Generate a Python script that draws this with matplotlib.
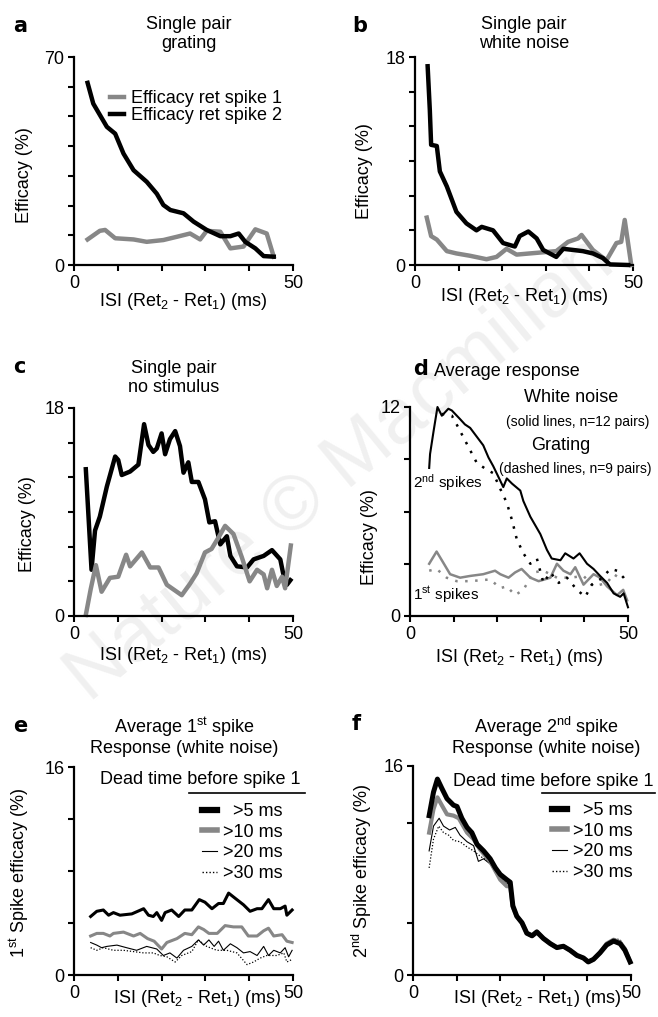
import matplotlib
matplotlib.use('Agg')
import matplotlib.pyplot as plt

plt.rcParams['font.family'] = ['Liberation Sans', 'DejaVu Sans']
plt.rcParams['mathtext.default'] = 'regular'
plt.rcParams['font.size'] = 13

W, H = 658, 1017
GRAY = '#878787'

# ---- panel a: single pair, grating
a_x1 = [3.1, 5.9, 7.1, 9.4, 13.6, 16.6, 20.4, 23.5, 26.5, 28.8, 30.3, 33.4, 35.7, 38.7, 41.4, 44, 45.6]
a_y1 = [8.6, 11.5, 11.8, 9, 8.6, 7.8, 8.4, 9.5, 10.6, 8.6, 11.5, 11.2, 5.6, 6.2, 12, 10.6, 2.8]
a_x2 = [3.1, 4.4, 7.5, 9.4, 11.3, 13.6, 16.6, 18.9, 20.4, 22, 25, 27.3, 30.3, 33.4, 35.7, 37.6, 39.1, 41.4, 43.3, 45.6]
a_y2 = [61.3, 54.3, 46.5, 44.2, 37.5, 31.9, 28, 24, 20.2, 18.5, 17.4, 14.6, 11.8, 9.7, 9.7, 10.6, 7.8, 5.6, 3, 2.8]

# ---- panel b: single pair, white noise
b_x1 = [2.7, 3.7, 5, 7.3, 9.5, 12.6, 16.4, 18.7, 21, 23.3, 26.3, 29.4, 32.4, 35.1, 37.4, 38.2, 40.8, 43.9, 46.2, 47.3, 48.1, 49.6]
b_y1 = [4.1, 2.5, 2.2, 1.2, 1.0, 0.8, 0.5, 0.7, 1.4, 0.9, 1.0, 1.1, 1.2, 2.0, 2.3, 2.6, 1.3, 0.4, 1.9, 2.0, 3.9, 0]
b_x2 = [2.9, 3.4, 3.7, 5, 5.7, 7.3, 9.5, 11.8, 14.1, 15.3, 17.9, 20.2, 22.9, 24, 26, 27.9, 29.4, 30.9, 32.4, 34,
        36.3, 38.5, 40.8, 43.1, 44.7, 48.9]
b_y2 = [17.2, 13.4, 10.4, 10.3, 8.1, 6.8, 4.6, 3.6, 3.0, 3.3, 3.0, 1.9, 1.6, 2.5, 2.9, 2.3, 1.3, 1.0, 0.7, 1.4,
        1.3, 1.2, 1.0, 0.6, 0.05, 0]

# ---- panel c: single pair, no stimulus
c_x1 = [2.7, 3.8, 5, 6.3, 8.2, 10.1, 11.9, 12.8, 15.5, 17.4, 19.3, 21.2, 24.6, 26.5, 28, 29.9, 31.4, 33, 34.5,
        36.4, 38.3, 40.1, 41.8, 43.3, 44.1, 45.2, 46.3, 47.5, 48.2, 49.5]
c_y1 = [0.1, 2.3, 4.4, 2.1, 3.3, 3.4, 5.3, 4.3, 5.5, 4.2, 4.2, 2.7, 1.8, 2.8, 3.7, 5.5, 5.8, 6.8, 7.8,
        7.1, 5.1, 3.0, 4.0, 3.6, 2.4, 4.0, 2.6, 3.4, 2.4, 6.1]
c_x2 = [2.7, 4, 4.8, 5.9, 7.5, 9.4, 10.1, 10.9, 12.8, 14.7, 16, 17, 18.1, 18.9, 20, 20.8, 21.9, 23.1, 24.2, 25,
        26.1, 26.9, 28.4, 29.9, 30.9, 32.2, 33.4, 34.9, 35.7, 37.2, 39.5, 41, 43.3, 45.2, 47.1, 47.9, 48.6, 49.4]
c_y2 = [12.7, 4, 7.4, 8.6, 11.2, 13.8, 13.5, 12.2, 12.5, 13.1, 16.6, 14.8, 14.2, 14.5, 15.8, 14, 15.3, 16, 14.7, 12.4,
        13.3, 11.6, 11.6, 10.1, 8.1, 8.2, 6.2, 6.9, 5.2, 4.3, 4.2, 4.9, 5.2, 5.7, 4.9, 3.4, 2.7, 3.1]

# ---- panel d: average response
d_wn2_x = [4.4, 4.6, 5.4, 6.3, 7.3, 8.8, 9.6, 11.5, 12.6, 13.8, 15.3, 16.8, 18, 19.1, 21.4, 22.2, 23.4, 25.3, 26,
           27.6, 29.9, 31.4, 32.5, 34.5, 35.6, 37.5, 38.9, 40.6, 42.1, 43.6, 45.2, 46.7, 48.2, 49, 50]
d_wn2_y = [8.5, 9.3, 10.6, 12, 11.5, 11.9, 11.8, 11.3, 11, 10.8, 10.3, 9.8, 9.1, 8.6, 7.4, 7.9, 7.6, 7.2, 6.6,
           5.7, 4.7, 3.8, 3.3, 3.2, 3.6, 3.3, 3.6, 3.0, 2.7, 2.3, 1.9, 1.3, 1.1, 1.3, 0.5]
d_gr2_x = [7.3, 9.6, 10.7, 13, 15.3, 17.6, 19.1, 20.7, 22.2, 23.4, 24.5, 26, 27.6, 29.1, 30.6, 32.2, 34.1, 36,
           38.3, 40.2, 41.7, 43.6, 46, 47.5, 49, 49.8]
d_gr2_y = [11.6, 11.5, 11, 9.9, 8.8, 8.4, 8.2, 7.3, 6.5, 5.5, 4.4, 3.6, 3.0, 3.3, 1.9, 2.5, 1.9, 2.2,
           1.5, 1.1, 1.8, 2.1, 2.7, 2.6, 2.2, 1.9]
d_wn1_x = [4.4, 6.1, 7.3, 9.2, 11.5, 13.8, 16.8, 19.5, 20.7, 22.6, 24.1, 25.6, 27.6, 29.5, 32.2, 33.7, 35.2,
           36.8, 37.9, 39.8, 42.1, 43.6, 45.2, 47.5, 48.9, 49.8]
d_wn1_y = [3.0, 3.7, 3.2, 2.4, 2.2, 2.3, 2.4, 2.6, 2.4, 2.2, 2.5, 2.7, 2.2, 2.0, 2.2, 3.0, 2.6,
           2.4, 2.8, 1.8, 2.4, 2.2, 1.7, 1.2, 1.5, 0.9]
d_gr1_x = [4.4, 6.1, 8.4, 10.7, 13.8, 18.4, 20.7, 22.2, 24.1, 26, 28.3, 30.6, 33.7, 36.8, 39.8, 42.1, 45.2, 46.7, 48.6]
d_gr1_y = [2.6, 2.7, 2.2, 2.0, 2.0, 2.1, 1.6, 1.7, 1.2, 1.5, 2.5, 2.6, 2.2, 2.2, 2.3, 1.7, 1.9, 2.4, 2.1]

# ---- panel e: average 1st spike, by dead time
e_x5 = [3.8, 5.2, 6.7, 7.9, 9, 10.5, 13.2, 15.9, 17, 18.1, 18.9, 20, 20.8, 22.3, 23.9, 25.3, 26.9, 28.6, 29.9,
        31.5, 33, 34.1, 35.3, 36.8, 38.7, 40.2, 41.8, 42.9, 44.4, 45.6, 47.1, 48.2, 48.6, 49.8]
e_y5 = [4.5, 4.9, 5.0, 4.6, 4.8, 4.6, 4.7, 5.1, 4.6, 4.5, 4.8, 4.2, 4.8, 5.0, 4.5, 5.0, 5.0, 5.8, 5.6,
        5.1, 5.5, 5.5, 6.3, 5.9, 5.4, 4.9, 5.1, 5.1, 5.8, 5.1, 5.1, 5.3, 4.6, 5.0]
e_x10 = [3.8, 5.2, 6.7, 8.2, 9, 11.3, 13.6, 15.1, 16.8, 18.3, 20, 21.2, 23.5, 25.3, 26.9, 28.4, 29.6, 30.8,
         32.7, 34.5, 36.4, 38.3, 39.8, 41.8, 43.3, 44.4, 45.6, 47.5, 48.6, 49.8]
e_y10 = [3.0, 3.2, 3.2, 3.0, 3.2, 3.3, 3.0, 3.2, 2.8, 2.6, 2.0, 2.5, 2.8, 3.2, 3.1, 3.7, 3.5, 3.2,
         3.2, 3.8, 3.7, 3.7, 3.0, 3.0, 3.4, 3.6, 3.0, 3.1, 2.6, 2.5]
e_x20 = [3.8, 5.2, 6.3, 7.5, 9.8, 12, 14.3, 16.6, 18.9, 20.4, 21.9, 23.5, 25, 26.9, 28.4, 29.6, 30.8, 32, 33,
         34.1, 35.7, 37.2, 38.7, 40.2, 41.8, 43.3, 44.4, 45.6, 47.1, 48.2, 49, 49.8]
e_y20 = [2.5, 2.3, 2.1, 2.2, 2.3, 2.1, 1.9, 2.2, 2.0, 1.5, 1.7, 1.3, 1.9, 2.2, 2.7, 2.3, 2.7, 2.2, 2.6,
         1.9, 2.4, 2.1, 1.7, 1.8, 1.5, 2.2, 1.5, 1.9, 1.7, 2.1, 1.4, 1.9]
e_x30 = [3.8, 5.2, 6.7, 9, 11.3, 13.6, 15.9, 18.1, 19.6, 21.2, 23.1, 24.6, 26.9, 28.4, 30.3, 32.6, 34.9, 37.2,
         39.5, 41, 42.5, 44, 46.3, 47.9, 48.6, 49.8]
e_y30 = [2.1, 1.9, 2.1, 1.9, 1.9, 1.8, 1.7, 1.7, 1.5, 1.4, 1.0, 1.5, 1.8, 2.7, 2.2, 1.9, 1.9, 1.7,
         0.8, 1.0, 1.3, 1.5, 1.5, 1.7, 1.0, 1.2]

# ---- panel f: average 2nd spike, by dead time
f_x5 = [3.7, 4.7, 5.6, 6.6, 7.8, 9.3, 10.1, 11.2, 12.4, 13.5, 14.7, 16.2, 17.7, 18.9, 20, 21.5, 22.3, 22.9, 23.8,
        25, 26.1, 27.3, 28.4, 29.9, 31.5, 33, 34.5, 36, 37.6, 39.1, 40.2, 41.4, 42.9, 44.4, 46, 47.5, 48.6, 49.8]
f_y5 = [12.2, 14.0, 15.0, 14.3, 13.5, 13.0, 12.9, 12.0, 11.3, 10.9, 10.0, 9.5, 8.9, 8.2, 7.7, 7.3, 7.1, 5.3, 4.5,
        4.0, 3.2, 3.0, 3.3, 2.8, 2.4, 2.1, 2.2, 1.9, 1.5, 1.3, 1.0, 1.2, 1.7, 2.3, 2.6, 2.4, 1.9, 1.0]
f_x10 = [3.7, 4.7, 5.6, 6.6, 7.8, 9.3, 10.5, 12.4, 13.9, 15.4, 17.7, 20, 21.5, 22.3, 22.9, 23.8, 25, 26.1, 27.3,
         28.4, 29.9, 31.5, 33, 34.5, 36, 37.6, 39.1, 40.2, 41.4, 42.9, 44.4, 46, 47.5, 48.6, 49.8]
f_y10 = [10.9, 12.7, 13.6, 13.0, 12.3, 12.2, 12.0, 10.9, 10.4, 9.6, 8.7, 7.3, 6.8, 6.8, 5.2, 4.5, 4.0, 3.2, 3.0,
         3.3, 2.8, 2.4, 2.1, 2.2, 1.9, 1.5, 1.3, 1.0, 1.2, 1.7, 2.4, 2.7, 2.5, 2.0, 1.0]
f_x20 = [3.7, 4.7, 6, 7, 8.4, 9.7, 10.8, 12.4, 13.9, 15, 16.2, 17.7, 20, 21.5, 22.3, 22.9, 23.8, 25, 26.1, 27.3,
         28.4, 29.9, 31.5, 33, 34.5, 36, 37.6, 39.1, 40.2, 41.4, 42.9, 44.4, 46, 47.5, 48.6, 49.8]
f_y20 = [9.5, 11.4, 12.0, 11.4, 11.1, 11.3, 10.7, 10.2, 9.9, 8.7, 8.9, 8.5, 7.3, 7.0, 6.9, 5.2, 4.5, 4.0, 3.2, 3.0,
         3.3, 2.8, 2.4, 2.1, 2.2, 1.9, 1.5, 1.3, 1.0, 1.2, 1.7, 2.4, 2.7, 2.6, 2.0, 1.1]
f_x30 = [3.7, 4.7, 5.9, 7, 8.2, 9.3, 10.8, 12.4, 13.9, 15.4, 17.7, 20, 21.5, 22.3, 22.9, 23.8, 25, 26.1, 27.3,
         28.4, 29.9, 31.5, 33, 34.5, 36, 37.6, 39.1, 40.2, 41.4, 42.9, 44.4, 46, 47.5, 48.6, 49.8]
f_y30 = [8.2, 10.4, 11.4, 10.9, 10.7, 10.3, 10.2, 9.8, 9.5, 9.1, 8.6, 7.4, 7.0, 6.9, 5.2, 4.5, 4.0, 3.2, 3.0,
         3.3, 2.8, 2.4, 2.1, 2.2, 1.9, 1.5, 1.3, 1.0, 1.2, 1.7, 2.4, 2.8, 2.7, 2.1, 1.2]

xticks = [0, 10, 20, 30, 40, 50]
xlab = 'ISI (Ret$_2$ - Ret$_1$) (ms)'
dead_labels = ['  >5 ms', '>10 ms', '>20 ms', '>30 ms']


def box(x0, y0, x1, y1):
    return [x0 / W, 1 - y1 / H, (x1 - x0) / W, (y1 - y0) / H]


def fp(x, y):
    return (x / W, 1 - y / H)


def style(ax, ymax, yticks, ylabel, ylab_pos, xlab_pos):
    ax.set_xlim(0, 50)
    ax.set_ylim(0, ymax)
    ax.patch.set_alpha(0)
    for s in ['top', 'right']:
        ax.spines[s].set_visible(False)
    for s in ['left', 'bottom']:
        ax.spines[s].set_linewidth(1.6)
    ax.set_xticks(xticks)
    ax.set_xticklabels(['0', '', '', '', '', '50'])
    ax.set_yticks(yticks)
    ax.set_yticklabels(['0'] + [''] * (len(yticks) - 2) + [str(ymax)])
    ax.tick_params(direction='out', length=4, width=1.5, labelsize=13, pad=3)
    ax.set_ylabel(ylabel, fontsize=13)
    ax.yaxis.set_label_coords(*ylab_pos)
    ax.set_xlabel(xlab, fontsize=13)
    ax.xaxis.set_label_coords(*xlab_pos)


fig = plt.figure(figsize=(W / 100, H / 100), dpi=100)

# watermark
fig.text(*fp(340, 470), 'Nature \u00a9 Macmillan', fontsize=56, color='#f0f0f0', rotation=39.5,
         ha='center', va='center', rotation_mode='anchor', zorder=-5)

# a
ax = fig.add_axes(box(74, 57, 293, 265))
l1, = ax.plot(a_x1, a_y1, color=GRAY, lw=3.2, clip_on=False)
l2, = ax.plot(a_x2, a_y2, color='black', lw=3.2, clip_on=False)
style(ax, 70, list(range(0, 71, 10)), 'Efficacy (%)', (-0.187, 0.43), (0.5, -0.125))
ax.legend([l1, l2], ['Efficacy ret spike 1', 'Efficacy ret spike 2'], frameon=False, fontsize=13,
          loc='upper left', bbox_to_anchor=fp(110, 90), bbox_transform=fig.transFigure,
          borderpad=0, borderaxespad=0, handlelength=0.8, handletextpad=0.35, labelspacing=0.0)

# b
ax = fig.add_axes(box(415, 57, 633, 265))
ax.plot(b_x1, b_y1, color=GRAY, lw=3.2, clip_on=False)
ax.plot(b_x2, b_y2, color='black', lw=3.2, clip_on=False)
style(ax, 18, [0, 3, 6, 9, 12, 15, 18], 'Efficacy (%)', (-0.193, 0.45), (0.5, -0.1))

# c
ax = fig.add_axes(box(74, 408, 293, 616))
ax.plot(c_x2, c_y2, color='black', lw=3.2, clip_on=False)
ax.plot(c_x1, c_y1, color=GRAY, lw=3.2, clip_on=False)
style(ax, 18, [0, 3, 6, 9, 12, 15, 18], 'Efficacy (%)', (-0.174, 0.44), (0.5, -0.14))

# d
ax = fig.add_axes(box(410, 407, 628, 616))
ax.plot(d_wn1_x, d_wn1_y, color=GRAY, lw=1.8, clip_on=False)
ax.plot(d_gr1_x, d_gr1_y, color=GRAY, lw=1.8, ls=(0, (1, 3)), clip_on=False)
ax.plot(d_wn2_x, d_wn2_y, color='black', lw=1.5, clip_on=False)
ax.plot(d_gr2_x, d_gr2_y, color='black', lw=1.8, ls=(0, (1, 3)), clip_on=False)
style(ax, 12, [0, 3, 6, 9, 12], 'Efficacy (%)', (-0.147, 0.38), (0.5, -0.148))
fig.text(*fp(413, 483), '2$^{nd}$ spikes', fontsize=11, ha='left', va='center')
fig.text(*fp(413, 595), '1$^{st}$ spikes', fontsize=11, ha='left', va='center')
fig.text(*fp(571, 398), 'White noise', fontsize=13, ha='center', va='center')
fig.text(*fp(578, 422), '(solid lines, n=12 pairs)', fontsize=10, ha='center', va='center')
fig.text(*fp(561, 445), 'Grating', fontsize=13, ha='center', va='center')
fig.text(*fp(575, 469), '(dashed lines, n=9 pairs)', fontsize=10, ha='center', va='center')

# e
ax = fig.add_axes(box(74, 767, 293, 975))
ax.plot(e_x5, e_y5, color='black', lw=2.2, clip_on=False)
ax.plot(e_x10, e_y10, color=GRAY, lw=2.2, clip_on=False)
ax.plot(e_x20, e_y20, color='black', lw=0.8, clip_on=False)
ax.plot(e_x30, e_y30, color='black', lw=0.9, ls=(0, (1, 1.5)), clip_on=False)
style(ax, 16, [0, 4, 8, 12, 16], '1$^{st}$ Spike efficacy (%)', (-0.198, 0.49), (0.56, -0.063))
fig.text(*fp(200, 779), 'Dead time before spike 1', fontsize=13, ha='center', va='center')
fig.add_artist(plt.Line2D([189 / W, 305 / W], [1 - 793 / H, 1 - 793 / H], color='black', lw=1.2))
leg_e = [plt.Line2D([], [], color='black', lw=4.5), plt.Line2D([], [], color=GRAY, lw=4),
         plt.Line2D([], [], color='black', lw=0.8), plt.Line2D([], [], color='black', lw=1.0, ls=(0, (1, 1.5)))]
ax.legend(leg_e, dead_labels, frameon=False, fontsize=13, loc='upper left',
          bbox_to_anchor=fp(202, 803), bbox_transform=fig.transFigure,
          borderpad=0, borderaxespad=0, handlelength=0.85, handletextpad=0.3, labelspacing=0.2)

# f
ax = fig.add_axes(box(413, 766, 631, 975))
ax.plot(f_x30, f_y30, color='black', lw=0.9, ls=(0, (1, 1.5)), clip_on=False)
ax.plot(f_x20, f_y20, color='black', lw=0.8, clip_on=False)
ax.plot(f_x10, f_y10, color=GRAY, lw=3.0, clip_on=False)
ax.plot(f_x5, f_y5, color='black', lw=3.6, clip_on=False)
style(ax, 16, [0, 4, 11.6, 16], '2$^{nd}$ Spike efficacy (%)', (-0.18, 0.5), (0.57, -0.063))
fig.text(*fp(553, 781), 'Dead time before spike 1', fontsize=13, ha='center', va='center')
fig.add_artist(plt.Line2D([542 / W, 655 / W], [1 - 793 / H, 1 - 793 / H], color='black', lw=1.2))
ax.legend(leg_e, dead_labels, frameon=False, fontsize=13, loc='upper left',
          bbox_to_anchor=fp(552, 802), bbox_transform=fig.transFigure,
          borderpad=0, borderaxespad=0, handlelength=0.85, handletextpad=0.3, labelspacing=0.2)

# titles
fig.text(*fp(189, 34), 'Single pair\ngrating', fontsize=13, ha='center', va='center', linespacing=1.15)
fig.text(*fp(524, 34), 'Single pair\nwhite noise', fontsize=13, ha='center', va='center', linespacing=1.15)
fig.text(*fp(174, 378), 'Single pair\nno stimulus', fontsize=13, ha='center', va='center', linespacing=1.15)
fig.text(*fp(507, 371), 'Average response', fontsize=13, ha='center', va='center')
fig.text(*fp(184, 736), 'Average 1$^{st}$ spike\nResponse (white noise)', fontsize=13,
         ha='center', va='center', linespacing=1.05)
fig.text(*fp(546, 736), 'Average 2$^{nd}$ spike\nResponse (white noise)', fontsize=13,
         ha='center', va='center', linespacing=1.05)

# panel letters
for letter, x, y in [('a', 13, 32), ('b', 352, 32), ('c', 13, 373), ('d', 413, 375), ('e', 13, 732), ('f', 352, 730)]:
    fig.text(*fp(x, y), letter, fontsize=15, fontweight='heavy', family=['DejaVu Sans'],
             ha='left', va='baseline')

fig.savefig('out.png', dpi=100)
